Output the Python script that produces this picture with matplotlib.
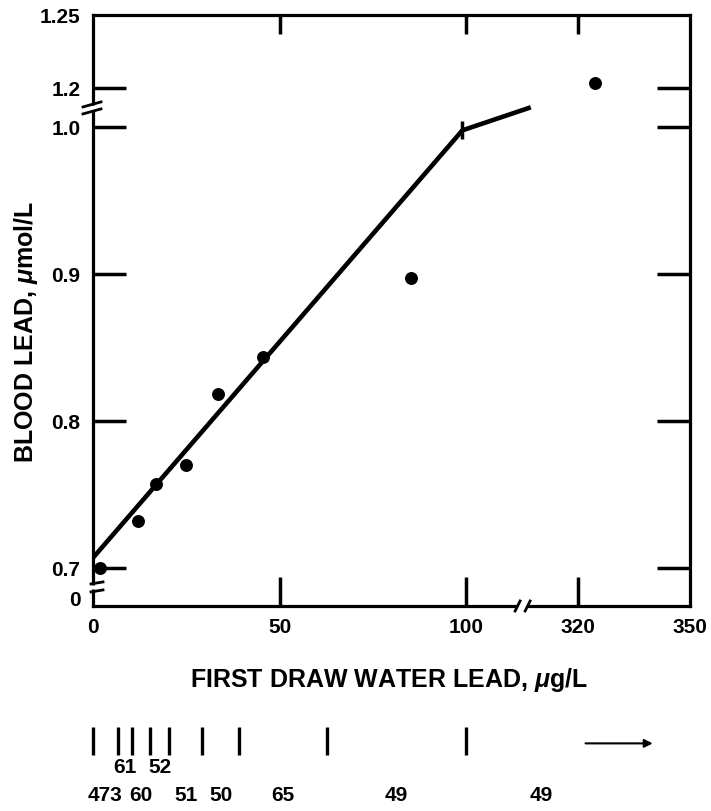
import numpy as np
import matplotlib
matplotlib.use("Agg")
import matplotlib.pyplot as plt

plt.rcParams['font.family'] = ['Liberation Sans', 'DejaVu Sans']
plt.rcParams['font.weight'] = 'bold'
plt.rcParams['mathtext.fontset'] = 'custom'
plt.rcParams['mathtext.rm'] = 'Liberation Sans:bold'
plt.rcParams['mathtext.it'] = 'Liberation Sans:italic:bold'

# first draw water lead (ug/L) vs mean blood lead (umol/L)
water_lead = [2, 12, 17, 24.8, 33.4, 45.6, 85.3, 324.4]
blood_lead = [0.700, 0.732, 0.7575, 0.770, 0.8186, 0.8435, 0.8976, 1.2036]

# fitted line (kink at 100)
fit_x = [0, 99, 227]
fit_y = [0.707, 0.998, 1.103]

# group boundaries under the plot and number of subjects per group
group_edges = [0, 6.7, 10.5, 15.4, 20.4, 29.3, 39.2, 62.8, 100, 330]
group_counts = [473, 61, 60, 52, 51, 50, 65, 49, 49]
count_row = [0, 1, 0, 1, 0, 0, 0, 0, 0]
arrow_x = [322, 340]

y_major = [0.7, 0.8, 0.9, 1.0, 1.2]
y_major_lab = ['0.7', '0.8', '0.9', '1.0', '1.2']
y_minor = [0, 1.25]
y_minor_lab = ['0', '1.25']
x_major = [50, 100, 320]
x_major_lab = ['50', '100', '320']
x_minor = [0, 350]
x_minor_lab = ['0', '350']


# broken x axis: 100..320 squeezed
def fx(x):
    x = np.asarray(x, float)
    return np.where(x <= 100, x,
                    np.where(x < 320, 100 + (x - 100) * 30 / 220, 130 + (x - 320)))


def fx_inv(u):
    u = np.asarray(u, float)
    return np.where(u <= 100, u,
                    np.where(u < 130, 100 + (u - 100) * 220 / 30, 320 + (u - 130)))


# broken y axis: 0..0.7 and 1.0..1.2 squeezed
LO_U = 0.6796
MID_U = 0.0265


def fy(y):
    y = np.asarray(y, float)
    return np.where(y <= 0.7, LO_U + y * (0.7 - LO_U) / 0.7,
                    np.where(y <= 1.0, y,
                             np.where(y <= 1.2, 1.0 + (y - 1.0) * MID_U / 0.2,
                                      1.0 + MID_U + (y - 1.2))))


def fy_inv(u):
    u = np.asarray(u, float)
    return np.where(u <= 0.7, (u - LO_U) * 0.7 / (0.7 - LO_U),
                    np.where(u <= 1.0, u,
                             np.where(u <= 1.0 + MID_U, 1.0 + (u - 1.0) * 0.2 / MID_U,
                                      1.2 + (u - 1.0 - MID_U))))


fig = plt.figure(figsize=(7.11, 8.11), dpi=100)
ax = fig.add_axes([0.1308, 0.2528, 0.8397, 0.7287])
ax.set_xscale('function', functions=(fx, fx_inv))
ax.set_yscale('function', functions=(fy, fy_inv))
ax.set_xlim(0, 350)
ax.set_ylim(-0.185, 1.25)

ax.plot(fit_x, fit_y, color='black', lw=3.3, solid_capstyle='butt', zorder=3)
ax.plot(fit_x[1], fit_y[1], marker='|', ms=13, mew=2.5, color='black', zorder=3)
ax.plot(water_lead, blood_lead, 'o', color='black', ms=8.3, zorder=4)

for s in ax.spines.values():
    s.set_linewidth(2.3)

ax.set_yticks(y_major, y_major_lab)
ax.set_yticks(y_minor, y_minor_lab, minor=True)
ax.set_xticks(x_major, x_major_lab)
ax.set_xticks(x_minor, x_minor_lab, minor=True)
ax.tick_params(axis='y', which='major', direction='in', length=24, width=2.5,
               left=True, right=True, pad=9, labelsize=15)
ax.tick_params(axis='y', which='minor', length=0, pad=9, labelsize=15)
ax.tick_params(axis='x', which='major', direction='in', length=21, width=2.5,
               bottom=True, top=False, pad=9, labelsize=15)
ax.tick_params(axis='x', which='minor', length=0, pad=9, labelsize=15)

# shorter ticks along the top
top = ax.twiny()
top.set_xscale('function', functions=(fx, fx_inv))
top.set_xlim(ax.get_xlim())
top.set_xticks(x_major)
top.tick_params(axis='x', direction='in', length=14, width=2.5, labeltop=False,
                top=True, bottom=False)
top.set_xticks([], minor=True)
for s in top.spines.values():
    s.set_visible(False)

ax.set_xlabel('FIRST DRAW WATER LEAD, $\\mu$g/L', fontsize=18, fontweight='bold')
ax.xaxis.set_label_coords(0.496, -0.1252)
ax.xaxis.label.set_va('center')
ax.set_ylabel('BLOOD LEAD, $\\mu$mol/L', fontsize=18, fontweight='bold')
ax.yaxis.set_label_coords(-0.113, 0.464)
ax.yaxis.label.set_va('center')

# axis break marks
AX_W, AX_H = 597.0, 591.0


def to_axes(x, y):
    return ax.transAxes.inverted().transform(ax.transData.transform((x, y)))


def draw_break(cx, cy, segs, gap):
    gx0, gy0, gx1, gy1 = gap
    ax.plot([cx + gx0 / AX_W, cx + gx1 / AX_W], [cy + gy0 / AX_H, cy + gy1 / AX_H],
            transform=ax.transAxes, color='white', lw=5, clip_on=False, zorder=6,
            solid_capstyle='butt')
    for x0, y0, x1, y1 in segs:
        ax.plot([cx + x0 / AX_W, cx + x1 / AX_W], [cy + y0 / AX_H, cy + y1 / AX_H],
                transform=ax.transAxes, color='black', lw=2, clip_on=False, zorder=7)


_, by = to_axes(0, 1.1)
draw_break(0, by, [(-10, 1, 8, 6), (-10, -6, 8, -1)], (0, -2, 0, 3))
_, by = to_axes(0, 0.26)
draw_break(0, by, [(-2, 3, 10, 5), (-2, -5, 10, -3)], (0, -2, 0, 2))
bx, _ = to_axes(210, 0)
draw_break(bx, 0, [(-7, -5, -2, 5), (3, -5, 8, 5)], (-5, 0, 5, 0))

# subject counts per water lead group, below the axis
xt = ax.get_xaxis_transform()
ax.vlines(group_edges[:-1], -0.2518, -0.2047, transform=xt, color='black',
          lw=2.4, clip_on=False)
for i, n in enumerate(group_counts):
    uc = (fx(group_edges[i]) + fx(group_edges[i + 1])) / 2
    yy = -0.2733 if count_row[i] else -0.3215
    ax.text(float(fx_inv(uc)), yy, str(n), transform=xt, ha='center', va='center',
            fontsize=15, fontweight='bold', clip_on=False)
ax.annotate('', xy=(arrow_x[1], -0.2325), xytext=(arrow_x[0], -0.2325),
            xycoords=xt, textcoords=xt,
            arrowprops=dict(arrowstyle='-|>', color='black', lw=1.5,
                            mutation_scale=12, shrinkA=0, shrinkB=0))

fig.savefig('out.png', dpi=100, facecolor='white')
